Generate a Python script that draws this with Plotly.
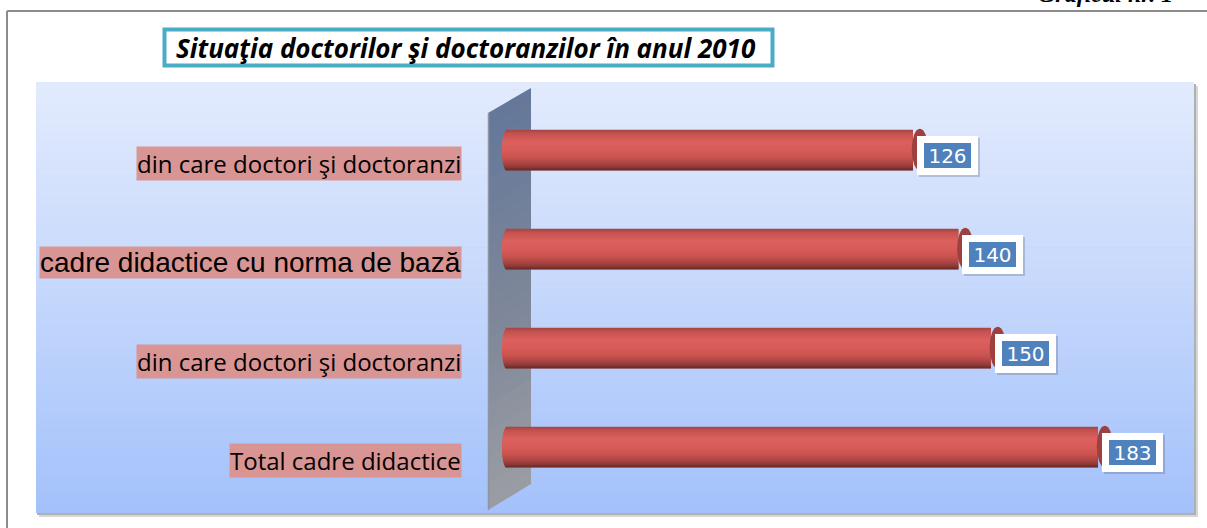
import plotly.graph_objects as go

# ---- data (bottom -> top) ----
categories = ["Total cadre didactice",
              "din care doctori şi doctoranzi",
              "cadre didactice cu norma de bază",
              "din care doctori şi doctoranzi"]
values = [183, 150, 140, 126]
title_text = "Situaţia doctorilor şi doctoranzilor în anul 2010"
corner_text = "Graficul nr. 1"

W_PX, H_PX = 1207, 528
def px(x): return x / W_PX
def py(y): return 1 - y / H_PX

def hex2rgb(h):
    h = h.lstrip('#'); return tuple(int(h[i:i+2], 16) for i in (0, 2, 4))
def lerp(c1, c2, t):
    a, b = hex2rgb(c1), hex2rgb(c2)
    return 'rgb(%d,%d,%d)' % tuple(round(a[i] + (b[i]-a[i])*t) for i in range(3))
def profile(stops, t):
    for (t0, c0), (t1, c1) in zip(stops, stops[1:]):
        if t <= t1:
            return lerp(c0, c1, (t - t0) / (t1 - t0) if t1 > t0 else 0)
    return lerp(stops[-1][1], stops[-1][1], 0)

# axis geometry
ZERO_PX, SCALE = 504, 3.246
PA_L, PA_R, PA_T, PA_B = 36, 1194, 82, 513
x_range = [(PA_L - ZERO_PX) / SCALE, (PA_R - ZERO_PX) / SCALE]
pos = list(range(len(categories)))
W = 0.41

fig = go.Figure()

# cylinder bars built from horizontal strips
bar_stops = [(0.0, '#a44544'), (0.1, '#c45250'), (0.3, '#dc605d'), (0.5, '#d85c59'),
             (0.68, '#c9534f'), (0.82, '#ad4644'), (0.93, '#8a3836'), (1.0, '#6d2b2a')]
N = 36
a_units = 5.0 / SCALE
c_units = (502 - ZERO_PX) / SCALE + a_units
for k in range(N):
    tm = (k + 0.5) / N
    u = 2 * tm - 1
    base = c_units - a_units * (max(0.0, 1 - u * u)) ** 0.5
    h = W / N * (1.0 if k == N - 1 else 2.0)
    fig.add_trace(go.Bar(
        orientation='h', y=pos, x=[v - base for v in values], base=[base] * len(values),
        width=[h] * len(values), offset=W / 2 - k / N * W - h,
        marker=dict(color=profile(bar_stops, tm), line=dict(width=0)),
        hoverinfo='skip', showlegend=False))

shapes = []
# outer frame lines
shapes.append(dict(type='line', xref='paper', yref='paper', x0=px(7), x1=px(1207), y0=py(11), y1=py(11),
                   line=dict(color='#8c8c8c', width=2)))
shapes.append(dict(type='line', xref='paper', yref='paper', x0=px(7), x1=px(7), y0=py(11), y1=py(528),
                   line=dict(color='#8c8c8c', width=2)))
# plot area shadow
shapes.append(dict(type='rect', xref='paper', yref='paper', x0=px(PA_L + 3), x1=px(PA_R + 4),
                   y0=py(PA_T + 4), y1=py(PA_B + 4), fillcolor='#d6d6d6', line=dict(width=0), layer='below'))
shapes.append(dict(type='rect', xref='paper', yref='paper', x0=px(PA_L + 1), x1=px(PA_R + 2),
                   y0=py(PA_T + 2), y1=py(PA_B + 2), fillcolor='#b0b0b0', line=dict(width=0), layer='below'))
# plot area gradient
bg_stops = [(0.0, '#e3ebfd'), (0.5, '#c4d7fc'), (1.0, '#a3c1fb')]
NB = 60
for k in range(NB):
    y0 = PA_T + (PA_B - PA_T) * k / NB
    y1 = PA_T + (PA_B - PA_T) * (k + 1) / NB + 0.6
    shapes.append(dict(type='rect', xref='paper', yref='paper', x0=px(PA_L), x1=px(PA_R),
                       y0=py(min(y1, PA_B)), y1=py(y0), fillcolor=profile(bg_stops, (k + 0.5) / NB),
                       line=dict(width=0), layer='below'))
# wall (parallelogram with vertical gradient)
wall_stops = [(0.0, '#64789a'), (0.5, '#7c8699'), (1.0, '#9b9da3')]
LX, RX = 488, 531
LT, LB, RT, RB = 113, 510, 88, 484
NW = 30
for k in range(NW):
    t0, t1 = k / NW, min(1.0, (k + 1.3) / NW)
    pts = [(LX, LT + t0 * (LB - LT)), (RX, RT + t0 * (RB - RT)),
           (RX, RT + t1 * (RB - RT)), (LX, LT + t1 * (LB - LT))]
    path = 'M ' + ' L '.join('%f,%f' % (px(x), py(y)) for x, y in pts) + ' Z'
    shapes.append(dict(type='path', xref='paper', yref='paper', path=path,
                       fillcolor=profile(wall_stops, (k + 0.5) / NW), line=dict(width=0), layer='below'))
shapes.append(dict(type='line', xref='paper', yref='paper', x0=px(488.5), x1=px(488.5), y0=py(LT), y1=py(LB),
                   line=dict(color='#8e95a3', width=1.5), layer='below'))
# end caps of cylinders
for p, v in zip(pos, values):
    shapes.append(dict(type='circle', xref='x', yref='y', x0=v - 0.4, x1=v + 15.0 / SCALE,
                       y0=p - W / 2, y1=p + W / 2 + 0.01, fillcolor='#9e403e', line=dict(width=0), layer='above'))
# title box
shapes.append(dict(type='rect', xref='paper', yref='paper', x0=px(164.5), x1=px(772.5), y0=py(65.5), y1=py(29.5),
                   fillcolor='white', line=dict(color='#4bacc6', width=4)))

annotations = []
annotations.append(dict(xref='paper', yref='paper', x=px(466), y=py(48), text=title_text, showarrow=False,
                        xanchor='center', yanchor='middle',
                        font=dict(family='Open Sans', size=26, color='black', weight='bold', style='italic')))
annotations.append(dict(xref='paper', yref='paper', x=px(1036), y=py(8.5), text=corner_text, showarrow=False,
                        xanchor='left', yanchor='bottom',
                        font=dict(family='Liberation Serif', size=24, color='black', weight='bold', style='italic')))
# category labels
for p, c in zip(pos, categories):
    is_arial = 'norma' in c
    annotations.append(dict(xref='paper', yref='y', x=px(462), y=p, yshift=-13, text=c, showarrow=False,
                            xanchor='right', yanchor='middle', bgcolor='#d99594', borderpad=0,
                            font=dict(family='Liberation Sans' if is_arial else 'Open Sans',
                                      size=28 if is_arial else 24, color='black')))
# value labels
for p, v in zip(pos, values):
    common = dict(xref='x', yref='y', x=v, y=p, text=str(v), showarrow=False, xanchor='left', yanchor='middle',
                  width=39, height=17, borderpad=4, borderwidth=7)
    annotations.append(dict(common, xshift=6, yshift=-7, bgcolor='rgba(60,60,80,0.22)',
                            bordercolor='rgba(60,60,80,0.22)',
                            font=dict(family='DejaVu Sans', size=20, color='rgba(0,0,0,0)')))
    annotations.append(dict(common, xshift=4, yshift=-5, bgcolor='#4f81bd', bordercolor='white',
                            font=dict(family='DejaVu Sans', size=20, color='white')))

fig.update_layout(
    width=W_PX, height=H_PX, margin=dict(l=0, r=0, t=0, b=0),
    paper_bgcolor='white', plot_bgcolor='rgba(0,0,0,0)',
    barmode='overlay', showlegend=False,
    xaxis=dict(domain=[px(PA_L), px(PA_R)], range=x_range, visible=False, fixedrange=True),
    yaxis=dict(domain=[py(496.5), py(100.5)], range=[-0.5, 3.5], visible=False, fixedrange=True),
    shapes=shapes, annotations=annotations,
)
fig.write_html("out.html", config={'displayModeBar': False},
               post_script="document.body.style.margin='0';document.body.style.overflow='hidden';")
